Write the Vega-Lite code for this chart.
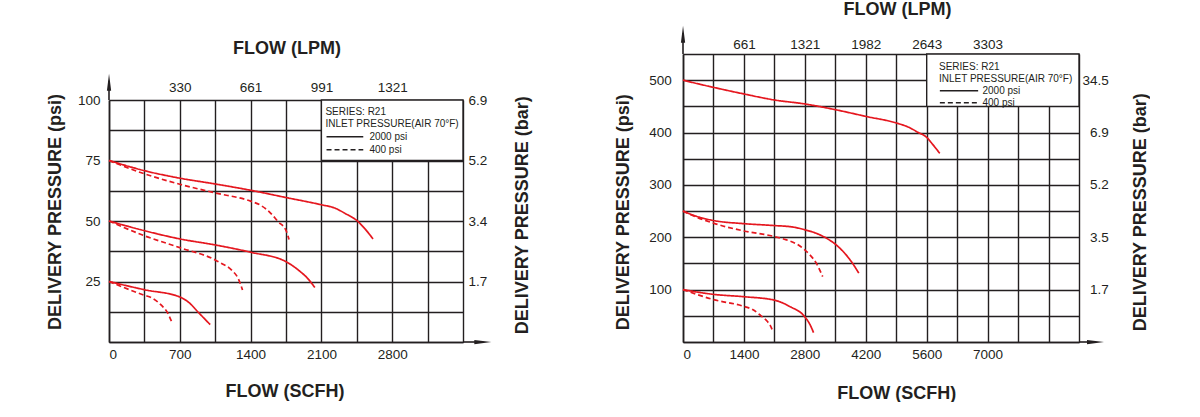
{
  "$schema": "https://vega.github.io/schema/vega-lite/v6.json",
  "padding": {"left": 46, "top": 0, "right": 0, "bottom": 0},
  "spacing": 82,
  "resolve": {"scale": {"strokeDash": "independent"}, "legend": {"strokeDash": "independent"}},
  "config": {
    "view": {"stroke": null},
    "axis": {
      "ticks": false,
      "labelFont": "Liberation Sans, Arial, sans-serif",
      "labelFontSize": 13.5,
      "labelColor": "#231f20",
      "titleFont": "Liberation Sans, Arial, sans-serif",
      "titleFontSize": 18,
      "titleFontWeight": "bold",
      "titleColor": "#231f20",
      "gridColor": "#231f20",
      "gridOpacity": 1,
      "gridWidth": 1.4,
      "domainColor": "#231f20",
      "domainWidth": 1.6,
      "labelAngle": 0,
      "titleBaseline": "middle",
      "titleAlign": "center"
    },
    "legend": {
      "orient": "none",
      "titleFont": "Liberation Sans, Arial, sans-serif",
      "titleFontSize": 10,
      "titleFontWeight": "normal",
      "titleColor": "#231f20",
      "labelFont": "Liberation Sans, Arial, sans-serif",
      "labelFontSize": 10,
      "labelColor": "#231f20",
      "symbolType": "stroke",
      "symbolStrokeWidth": 1.5,
      "symbolStrokeColor": "#231f20",
      "symbolOffset": 0,
      "padding": 0,
      "rowPadding": 0,
      "titlePadding": 1
    }
  },
  "datasets": {
    "left": [
      {"curve": "L75a", "inlet": "2000 psi", "flow": 0, "pressure": 75},
      {"curve": "L75a", "inlet": "2000 psi", "flow": 350, "pressure": 70.8},
      {"curve": "L75a", "inlet": "2000 psi", "flow": 700, "pressure": 67.7},
      {"curve": "L75a", "inlet": "2000 psi", "flow": 1050, "pressure": 65.3},
      {"curve": "L75a", "inlet": "2000 psi", "flow": 1400, "pressure": 62.7},
      {"curve": "L75a", "inlet": "2000 psi", "flow": 1750, "pressure": 59.7},
      {"curve": "L75a", "inlet": "2000 psi", "flow": 2100, "pressure": 56.7},
      {"curve": "L75a", "inlet": "2000 psi", "flow": 2230, "pressure": 55.4},
      {"curve": "L75a", "inlet": "2000 psi", "flow": 2340, "pressure": 53},
      {"curve": "L75a", "inlet": "2000 psi", "flow": 2450, "pressure": 50.2},
      {"curve": "L75a", "inlet": "2000 psi", "flow": 2530, "pressure": 46.8},
      {"curve": "L75a", "inlet": "2000 psi", "flow": 2610, "pressure": 42.6},
      {"curve": "L75b", "inlet": "400 psi", "flow": 0, "pressure": 75},
      {"curve": "L75b", "inlet": "400 psi", "flow": 350, "pressure": 69.5},
      {"curve": "L75b", "inlet": "400 psi", "flow": 700, "pressure": 65.2},
      {"curve": "L75b", "inlet": "400 psi", "flow": 1050, "pressure": 61.6},
      {"curve": "L75b", "inlet": "400 psi", "flow": 1400, "pressure": 58.2},
      {"curve": "L75b", "inlet": "400 psi", "flow": 1490, "pressure": 56.7},
      {"curve": "L75b", "inlet": "400 psi", "flow": 1590, "pressure": 53.6},
      {"curve": "L75b", "inlet": "400 psi", "flow": 1670, "pressure": 49.8},
      {"curve": "L75b", "inlet": "400 psi", "flow": 1750, "pressure": 46.1},
      {"curve": "L75b", "inlet": "400 psi", "flow": 1780, "pressure": 42.4},
      {"curve": "L50a", "inlet": "2000 psi", "flow": 0, "pressure": 50},
      {"curve": "L50a", "inlet": "2000 psi", "flow": 350, "pressure": 46},
      {"curve": "L50a", "inlet": "2000 psi", "flow": 700, "pressure": 42.6},
      {"curve": "L50a", "inlet": "2000 psi", "flow": 1050, "pressure": 40.1},
      {"curve": "L50a", "inlet": "2000 psi", "flow": 1400, "pressure": 37.1},
      {"curve": "L50a", "inlet": "2000 psi", "flow": 1750, "pressure": 33.2},
      {"curve": "L50a", "inlet": "2000 psi", "flow": 1870, "pressure": 29.8},
      {"curve": "L50a", "inlet": "2000 psi", "flow": 1970, "pressure": 26},
      {"curve": "L50a", "inlet": "2000 psi", "flow": 2035, "pressure": 22.5},
      {"curve": "L50b", "inlet": "400 psi", "flow": 0, "pressure": 50},
      {"curve": "L50b", "inlet": "400 psi", "flow": 350, "pressure": 43.9},
      {"curve": "L50b", "inlet": "400 psi", "flow": 700, "pressure": 39},
      {"curve": "L50b", "inlet": "400 psi", "flow": 1050, "pressure": 33.9},
      {"curve": "L50b", "inlet": "400 psi", "flow": 1110, "pressure": 32.5},
      {"curve": "L50b", "inlet": "400 psi", "flow": 1210, "pressure": 29.8},
      {"curve": "L50b", "inlet": "400 psi", "flow": 1280, "pressure": 26},
      {"curve": "L50b", "inlet": "400 psi", "flow": 1320, "pressure": 21.5},
      {"curve": "L25a", "inlet": "2000 psi", "flow": 0, "pressure": 25},
      {"curve": "L25a", "inlet": "2000 psi", "flow": 350, "pressure": 21.6},
      {"curve": "L25a", "inlet": "2000 psi", "flow": 700, "pressure": 18.6},
      {"curve": "L25a", "inlet": "2000 psi", "flow": 785, "pressure": 16.5},
      {"curve": "L25a", "inlet": "2000 psi", "flow": 880, "pressure": 12.4},
      {"curve": "L25a", "inlet": "2000 psi", "flow": 1000, "pressure": 7.2},
      {"curve": "L25b", "inlet": "400 psi", "flow": 0, "pressure": 25},
      {"curve": "L25b", "inlet": "400 psi", "flow": 350, "pressure": 19.3},
      {"curve": "L25b", "inlet": "400 psi", "flow": 420, "pressure": 18.3},
      {"curve": "L25b", "inlet": "400 psi", "flow": 520, "pressure": 15.1},
      {"curve": "L25b", "inlet": "400 psi", "flow": 580, "pressure": 12},
      {"curve": "L25b", "inlet": "400 psi", "flow": 620, "pressure": 8.3}
    ],
    "right": [
      {"curve": "R500a", "inlet": "2000 psi", "flow": 0, "pressure": 500},
      {"curve": "R500a", "inlet": "2000 psi", "flow": 350, "pressure": 493},
      {"curve": "R500a", "inlet": "2000 psi", "flow": 700, "pressure": 486.3},
      {"curve": "R500a", "inlet": "2000 psi", "flow": 1400, "pressure": 473.7},
      {"curve": "R500a", "inlet": "2000 psi", "flow": 2100, "pressure": 462.2},
      {"curve": "R500a", "inlet": "2000 psi", "flow": 2800, "pressure": 454.6},
      {"curve": "R500a", "inlet": "2000 psi", "flow": 3500, "pressure": 443.7},
      {"curve": "R500a", "inlet": "2000 psi", "flow": 4200, "pressure": 430.9},
      {"curve": "R500a", "inlet": "2000 psi", "flow": 4900, "pressure": 418.3},
      {"curve": "R500a", "inlet": "2000 psi", "flow": 5190, "pressure": 410},
      {"curve": "R500a", "inlet": "2000 psi", "flow": 5400, "pressure": 400.4},
      {"curve": "R500a", "inlet": "2000 psi", "flow": 5600, "pressure": 390.8},
      {"curve": "R500a", "inlet": "2000 psi", "flow": 5730, "pressure": 378.2},
      {"curve": "R500a", "inlet": "2000 psi", "flow": 5900, "pressure": 360.3},
      {"curve": "R250a", "inlet": "2000 psi", "flow": 0, "pressure": 250},
      {"curve": "R250a", "inlet": "2000 psi", "flow": 370, "pressure": 238.5},
      {"curve": "R250a", "inlet": "2000 psi", "flow": 700, "pressure": 232},
      {"curve": "R250a", "inlet": "2000 psi", "flow": 1400, "pressure": 226},
      {"curve": "R250a", "inlet": "2000 psi", "flow": 2070, "pressure": 222.5},
      {"curve": "R250a", "inlet": "2000 psi", "flow": 2530, "pressure": 219.5},
      {"curve": "R250a", "inlet": "2000 psi", "flow": 2790, "pressure": 214.5},
      {"curve": "R250a", "inlet": "2000 psi", "flow": 3080, "pressure": 207},
      {"curve": "R250a", "inlet": "2000 psi", "flow": 3310, "pressure": 197.5},
      {"curve": "R250a", "inlet": "2000 psi", "flow": 3490, "pressure": 187.5},
      {"curve": "R250a", "inlet": "2000 psi", "flow": 3700, "pressure": 171},
      {"curve": "R250a", "inlet": "2000 psi", "flow": 3890, "pressure": 151},
      {"curve": "R250a", "inlet": "2000 psi", "flow": 4040, "pressure": 131.5},
      {"curve": "R250b", "inlet": "400 psi", "flow": 0, "pressure": 250},
      {"curve": "R250b", "inlet": "400 psi", "flow": 220, "pressure": 241.5},
      {"curve": "R250b", "inlet": "400 psi", "flow": 700, "pressure": 227},
      {"curve": "R250b", "inlet": "400 psi", "flow": 1400, "pressure": 212},
      {"curve": "R250b", "inlet": "400 psi", "flow": 2070, "pressure": 202},
      {"curve": "R250b", "inlet": "400 psi", "flow": 2360, "pressure": 195.5},
      {"curve": "R250b", "inlet": "400 psi", "flow": 2670, "pressure": 184.2},
      {"curve": "R250b", "inlet": "400 psi", "flow": 2900, "pressure": 167.7},
      {"curve": "R250b", "inlet": "400 psi", "flow": 3060, "pressure": 151},
      {"curve": "R250b", "inlet": "400 psi", "flow": 3210, "pressure": 125},
      {"curve": "R100a", "inlet": "2000 psi", "flow": 0, "pressure": 100},
      {"curve": "R100a", "inlet": "2000 psi", "flow": 700, "pressure": 91},
      {"curve": "R100a", "inlet": "2000 psi", "flow": 1400, "pressure": 86.5},
      {"curve": "R100a", "inlet": "2000 psi", "flow": 2100, "pressure": 80},
      {"curve": "R100a", "inlet": "2000 psi", "flow": 2460, "pressure": 67.5},
      {"curve": "R100a", "inlet": "2000 psi", "flow": 2790, "pressure": 49},
      {"curve": "R100a", "inlet": "2000 psi", "flow": 2920, "pressure": 33},
      {"curve": "R100a", "inlet": "2000 psi", "flow": 3000, "pressure": 18},
      {"curve": "R100b", "inlet": "400 psi", "flow": 0, "pressure": 100},
      {"curve": "R100b", "inlet": "400 psi", "flow": 700, "pressure": 81},
      {"curve": "R100b", "inlet": "400 psi", "flow": 1400, "pressure": 68},
      {"curve": "R100b", "inlet": "400 psi", "flow": 1600, "pressure": 62},
      {"curve": "R100b", "inlet": "400 psi", "flow": 1780, "pressure": 51},
      {"curve": "R100b", "inlet": "400 psi", "flow": 1940, "pressure": 39},
      {"curve": "R100b", "inlet": "400 psi", "flow": 2010, "pressure": 31},
      {"curve": "R100b", "inlet": "400 psi", "flow": 2070, "pressure": 19}
    ]
  },
  "hconcat": [
    {
      "resolve": {"scale": {"strokeDash": "independent"}, "legend": {"strokeDash": "independent"}},
      "vconcat": [
        {
          "width": 354,
          "height": 46,
          "data": {"values": []},
          "mark": {"type": "point", "opacity": 0},
          "encoding": {}
        },
        {
          "width": 354,
          "height": 242,
          "resolve": {"axis": {"x": "independent", "y": "independent"}},
          "layer": [
            {
              "data": {"name": "left"},
              "mark": {"type": "line", "interpolate": "monotone", "strokeWidth": 1.7, "color": "#e5171f"},
              "encoding": {
                "x": {
                  "field": "flow", "type": "quantitative",
                  "scale": {"domain": [0, 3500], "nice": false, "zero": false},
                  "axis": {
                    "orient": "bottom",
                    "values": [0, 350, 700, 1050, 1400, 1750, 2100, 2450, 2800, 3150, 3500],
                    "grid": true,
                    "labelExpr": "datum.value % 700 === 0 && datum.value < 3500 ? '' + datum.value : ''",
                    "labelPadding": 5,
                    "title": "FLOW (SCFH)",
                    "titleX": 175.5,
                    "titleY": 49.5
                  }
                },
                "y": {
                  "field": "pressure", "type": "quantitative",
                  "scale": {"domain": [0, 100], "nice": false, "zero": false},
                  "axis": {
                    "orient": "left",
                    "values": [0, 12.5, 25, 37.5, 50, 62.5, 75, 87.5, 100],
                    "grid": true,
                    "labelExpr": "datum.value % 25 === 0 && datum.value > 0 ? '' + datum.value : ''",
                    "labelPadding": 9,
                    "title": "DELIVERY PRESSURE (psi)",
                    "titleAngle": -90,
                    "titleX": -53.3,
                    "titleY": 111.5
                  }
                },
                "strokeDash": {
                  "field": "inlet", "type": "nominal",
                  "scale": {"domain": ["2000 psi", "400 psi"], "range": [[1, 0], [5, 3]]},
                  "legend": {
                    "title": ["SERIES: R21", "INLET PRESSURE(AIR 70°F)"],
                    "legendX": 216.4,
                    "legendY": 7,
                    "titleLineHeight": 12.4,
                    "symbolSize": 1350,
                    "clipHeight": 12.8,
                    "labelOffset": 5,
                    "encode": {"symbols": {"enter": {"stroke": {"value": "#231f20"}}, "update": {"stroke": {"value": "#231f20"}}}}
                  }
                },
                "detail": {"field": "curve"}
              }
            },
            {
              "data": {"values": [{}]},
              "mark": {"type": "rect", "fill": "white", "stroke": "#231f20", "strokeWidth": 1.4},
              "encoding": {
                "x": {
                  "datum": 2100, "type": "quantitative",
                  "axis": {
                    "orient": "top",
                    "values": [700, 1400, 2100, 2800],
                    "grid": false,
                    "domain": false,
                    "labelExpr": "datum.value === 700 ? '330' : datum.value === 1400 ? '661' : datum.value === 2100 ? '991' : '1321'",
                    "labelPadding": 5.7,
                    "title": "FLOW (LPM)",
                    "titleX": 177.5,
                    "titleY": -51.8
                  }
                },
                "x2": {"datum": 3500},
                "y": {
                  "datum": 75, "type": "quantitative",
                  "axis": {
                    "orient": "right",
                    "values": [25, 50, 75, 100],
                    "grid": false,
                    "domain": false,
                    "labelExpr": "datum.value === 25 ? '1.7' : datum.value === 50 ? '3.4' : datum.value === 75 ? '5.2' : '6.9'",
                    "labelPadding": 5,
                    "title": "DELIVERY PRESSURE (bar)",
                    "titleAngle": -90,
                    "titleX": 59.3,
                    "titleY": 114.7
                  }
                },
                "y2": {"datum": 100}
              }
            },
            {
              "data": {"values": [{}]},
              "mark": {"type": "rule", "color": "#231f20", "strokeWidth": 1.6},
              "encoding": {
                "x": {"datum": 0, "type": "quantitative", "axis": null},
                "y": {"datum": 100, "type": "quantitative", "axis": null},
                "y2": {"datum": 108}
              }
            },
            {
              "data": {"values": [{}]},
              "mark": {"type": "rule", "color": "#231f20", "strokeWidth": 1.6},
              "encoding": {
                "x": {"datum": 3500, "type": "quantitative", "axis": null},
                "x2": {"datum": 3700},
                "y": {"datum": 0, "type": "quantitative", "axis": null}
              }
            },
            {
              "data": {"values": [{}]},
              "mark": {"type": "point", "shape": "M0,-1L0.25,1L-0.25,1Z", "size": 289, "filled": true, "color": "#231f20", "opacity": 1},
              "encoding": {
                "x": {"datum": 0, "type": "quantitative", "axis": null},
                "y": {"datum": 107.3, "type": "quantitative", "axis": null}
              }
            },
            {
              "data": {"values": [{}]},
              "mark": {"type": "point", "shape": "M1,0L-1,0.25L-1,-0.25Z", "size": 289, "filled": true, "color": "#231f20", "opacity": 1},
              "encoding": {
                "x": {"datum": 3696, "type": "quantitative", "axis": null},
                "y": {"datum": 0, "type": "quantitative", "axis": null}
              }
            }
          ]
        }
      ],
      "spacing": 0,
      "bounds": "flush"
    },
    {
      "width": 396,
      "height": 288,
      "resolve": {"axis": {"x": "independent", "y": "independent"}},
      "layer": [
        {
          "data": {"name": "right"},
          "mark": {"type": "line", "interpolate": "monotone", "strokeWidth": 1.7, "color": "#e5171f"},
          "encoding": {
            "x": {
              "field": "flow", "type": "quantitative",
              "scale": {"domain": [0, 9100], "nice": false, "zero": false},
              "axis": {
                "orient": "bottom",
                "values": [0, 700, 1400, 2100, 2800, 3500, 4200, 4900, 5600, 6300, 7000, 7700, 8400, 9100],
                "grid": true,
                "labelExpr": "datum.value % 1400 === 0 && datum.value <= 7000 ? '' + datum.value : ''",
                "labelPadding": 5,
                "title": "FLOW (SCFH)",
                "titleX": 213.3,
                "titleY": 51
              }
            },
            "y": {
              "field": "pressure", "type": "quantitative",
              "scale": {"domain": [0, 550], "nice": false, "zero": false},
              "axis": {
                "orient": "left",
                "values": [0, 50, 100, 150, 200, 250, 300, 350, 400, 450, 500, 550],
                "grid": true,
                "labelExpr": "datum.value % 100 === 0 && datum.value > 0 && datum.value <= 500 ? '' + datum.value : ''",
                "labelPadding": 11.7,
                "title": "DELIVERY PRESSURE (psi)",
                "titleAngle": -90,
                "titleX": -59.7,
                "titleY": 157.7
              }
            },
            "strokeDash": {
              "field": "inlet", "type": "nominal",
              "scale": {"domain": ["2000 psi", "400 psi"], "range": [[1, 0], [5, 3]]},
              "legend": {
                "title": ["SERIES: R21", "INLET PRESSURE(AIR 70°F)"],
                "legendX": 256,
                "legendY": 7.7,
                "titleLineHeight": 12,
                "symbolSize": 1467,
                "clipHeight": 12,
                "labelOffset": 3.5,
                "encode": {"symbols": {"enter": {"stroke": {"value": "#231f20"}}, "update": {"stroke": {"value": "#231f20"}}}}
              }
            },
            "detail": {"field": "curve"}
          }
        },
        {
          "data": {"values": [{}]},
          "mark": {"type": "rect", "fill": "white", "stroke": "#231f20", "strokeWidth": 1.4},
          "encoding": {
            "x": {
              "datum": 5600, "type": "quantitative",
              "axis": {
                "orient": "top",
                "values": [1400, 2800, 4200, 5600, 7000],
                "grid": false,
                "domain": false,
                "labelExpr": "datum.value === 1400 ? '661' : datum.value === 2800 ? '1321' : datum.value === 4200 ? '1982' : datum.value === 5600 ? '2643' : '3303'",
                "labelPadding": 3,
                "title": "FLOW (LPM)",
                "titleX": 213.9,
                "titleY": -44.3
              }
            },
            "x2": {"datum": 9100},
            "y": {
              "datum": 450, "type": "quantitative",
              "axis": {
                "orient": "right",
                "values": [100, 200, 300, 400, 500],
                "grid": false,
                "domain": false,
                "labelAlign": "right",
                "labelExpr": "datum.value === 100 ? '1.7' : datum.value === 200 ? '3.5' : datum.value === 300 ? '5.2' : datum.value === 400 ? '6.9' : '34.5'",
                "labelPadding": 29.3,
                "title": "DELIVERY PRESSURE (bar)",
                "titleAngle": -90,
                "titleX": 61.3,
                "titleY": 157.7
              }
            },
            "y2": {"datum": 550}
          }
        },
        {
          "data": {"values": [{}]},
          "mark": {"type": "rule", "color": "#231f20", "strokeWidth": 1.6},
          "encoding": {
            "x": {"datum": 0, "type": "quantitative", "axis": null},
            "y": {"datum": 550, "type": "quantitative", "axis": null},
            "y2": {"datum": 590}
          }
        },
        {
          "data": {"values": [{}]},
          "mark": {"type": "rule", "color": "#231f20", "strokeWidth": 1.6},
          "encoding": {
            "x": {"datum": 9100, "type": "quantitative", "axis": null},
            "x2": {"datum": 9480},
            "y": {"datum": 0, "type": "quantitative", "axis": null}
          }
        },
        {
          "data": {"values": [{}]},
          "mark": {"type": "point", "shape": "M0,-1L0.25,1L-0.25,1Z", "size": 289, "filled": true, "color": "#231f20", "opacity": 1},
          "encoding": {
            "x": {"datum": 0, "type": "quantitative", "axis": null},
            "y": {"datum": 587.8, "type": "quantitative", "axis": null}
          }
        },
        {
          "data": {"values": [{}]},
          "mark": {"type": "point", "shape": "M1,0L-1,0.25L-1,-0.25Z", "size": 289, "filled": true, "color": "#231f20", "opacity": 1},
          "encoding": {
            "x": {"datum": 9479, "type": "quantitative", "axis": null},
            "y": {"datum": 0, "type": "quantitative", "axis": null}
          }
        }
      ]
    }
  ]
}
